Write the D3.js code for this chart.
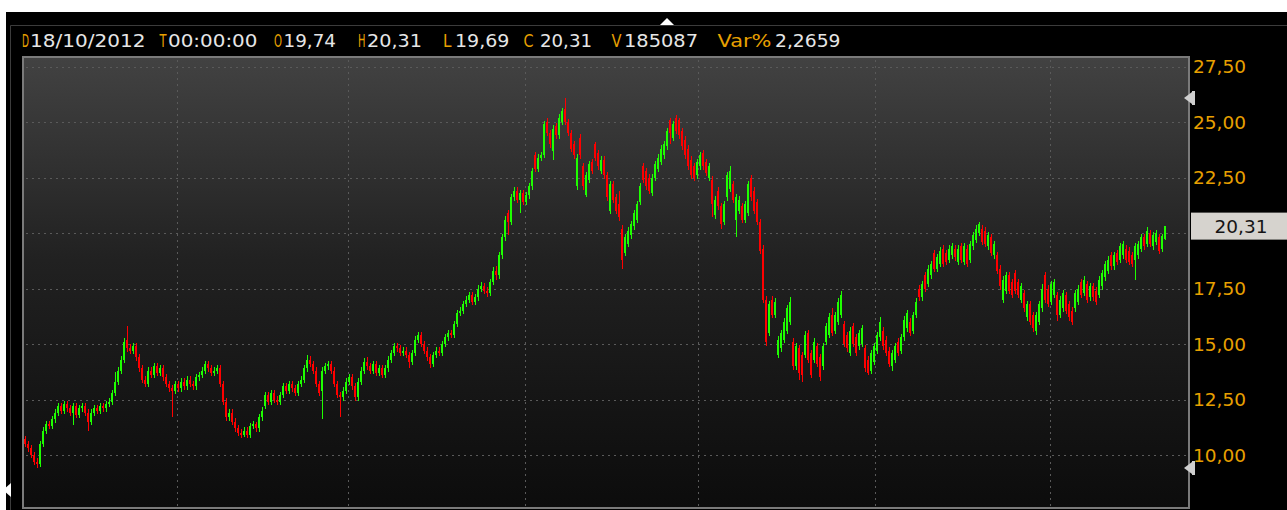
<!DOCTYPE html>
<html><head><meta charset="utf-8">
<script src="https://cdn.jsdelivr.net/npm/d3@7"></script>
<style>html,body{margin:0;padding:0;background:#fff;overflow:hidden}</style>
</head><body><svg id="c" width="1287" height="510"></svg>
<script>
// ---- data (daily OHLC bars) ----
const opens = [
10.7,10.5,10.3,10.0,9.7,9.6,10.5,11.1,11.4,11.3,
11.6,11.9,12.2,12.0,12.3,12.1,11.9,12.2,11.8,12.1,
12.2,11.9,11.5,11.9,12.1,12.0,12.2,12.1,12.3,12.4,
12.8,13.3,13.8,14.3,15.2,14.8,14.7,14.9,14.4,13.9,
13.4,13.2,13.8,13.6,14.0,13.7,13.9,13.5,13.2,13.0,
12.9,13.2,13.0,13.3,13.1,13.4,13.2,13.1,13.5,13.6,
13.8,14.1,13.9,13.7,13.8,13.9,13.2,12.4,11.7,11.9,
11.5,11.2,11.0,10.9,11.1,10.9,11.3,11.4,11.2,11.7,
12.2,12.7,12.4,12.8,12.5,12.4,12.7,13.1,12.9,13.2,
13.0,12.8,13.2,13.4,13.9,14.3,14.1,13.8,13.2,12.9,
13.8,14.0,14.1,13.8,13.2,12.7,12.6,12.9,13.3,13.5,
13.1,12.6,13.3,13.8,14.2,14.0,13.8,14.1,13.7,13.9,
13.6,13.9,14.3,14.6,14.9,14.8,14.6,14.7,14.5,14.2,
14.6,15.2,15.4,15.0,14.7,14.4,14.1,14.5,14.7,14.6,
15.0,15.3,15.5,15.4,15.9,16.4,16.5,16.8,17.0,17.2,
16.9,17.1,17.5,17.6,17.4,17.3,17.8,18.3,18.1,19.0,
19.8,20.9,20.5,21.6,21.9,21.5,21.8,21.4,21.7,22.1,
23.5,22.9,23.4,23.5,25.0,24.5,23.7,24.8,24.4,25.0,
25.6,25.0,24.5,24.0,22.1,24.3,23.0,21.7,22.4,23.2,
24.0,23.6,22.8,23.3,22.6,21.0,22.2,21.6,21.3,20.2,
19.1,19.5,19.9,20.3,20.6,21.4,23.0,22.8,22.5,21.8,
22.5,22.9,23.2,23.5,23.9,25.1,24.3,25.2,25.1,24.6,
24.2,23.8,23.3,23.0,22.6,23.0,23.6,23.2,22.5,22.4,
20.8,21.9,21.2,20.5,21.6,22.0,22.2,20.6,21.0,21.2,
20.6,20.9,22.5,21.9,21.4,20.5,19.3,17.0,15.5,17.0,
16.3,14.5,14.8,15.2,15.6,16.0,15.1,14.0,14.8,14.5,
14.5,15.5,14.6,14.3,14.9,14.4,14.0,15.1,15.4,16.3,
15.6,16.0,16.3,15.9,15.4,14.6,15.8,15.3,14.9,15.0,
14.8,14.3,13.8,14.2,14.7,15.3,15.6,15.2,14.7,14.0,
14.3,15.1,14.7,15.3,15.7,16.0,15.6,16.3,17.5,17.1,
18.1,17.7,18.1,19.1,18.4,18.6,19.3,19.1,18.8,19.0,
19.3,18.7,19.4,18.7,19.3,18.8,19.4,19.7,20.0,20.2,
20.1,19.4,19.8,19.0,19.0,18.4,17.0,17.4,18.1,17.8,
18.2,17.8,17.0,17.3,16.2,16.8,16.3,15.6,16.0,16.6,
18.1,17.5,16.9,17.2,17.2,16.3,16.6,17.2,16.8,16.5,
16.6,16.9,17.8,17.3,17.7,17.1,17.6,17.4,17.2,17.6,
18.0,18.3,19.0,18.5,19.1,18.8,19.0,19.3,19.2,19.0,
18.8,19.0,19.3,19.8,19.5,20.0,19.4,19.6,19.8,19.3,19.74];
const highs = [
10.85,10.65,10.45,10.15,9.85,10.65,11.25,11.55,11.55,11.75,
12.05,12.35,12.35,12.45,12.45,12.25,12.35,12.35,12.25,12.35,
12.35,12.05,12.05,12.25,12.25,12.35,12.35,12.45,12.55,12.95,
13.75,13.95,14.45,15.25,15.8,15.0,15.05,15.05,14.55,14.05,
13.55,13.95,13.95,14.15,14.15,14.05,14.05,13.65,13.35,13.15,
13.35,13.35,13.45,13.45,13.55,13.55,13.35,13.65,13.75,13.95,
14.25,14.25,14.05,13.95,14.05,14.05,13.35,12.55,12.05,12.05,
11.65,11.35,11.15,11.25,11.25,11.45,11.55,11.5,11.85,12.15,
12.85,12.85,12.95,12.95,12.65,12.85,13.25,13.25,13.35,13.35,
13.15,13.35,13.55,14.05,14.5,14.45,14.25,13.95,13.35,13.95,
14.15,14.25,14.25,13.95,13.35,12.85,13.05,13.45,13.65,13.65,
13.25,13.45,13.95,14.35,14.4,14.15,14.25,14.25,14.05,14.05,
14.05,14.45,14.75,15.05,15.05,14.95,14.85,14.85,14.65,14.75,
15.35,15.55,15.55,15.15,14.85,14.55,14.65,14.85,14.85,15.15,
15.45,15.65,15.65,16.05,16.55,16.65,16.95,17.15,17.35,17.35,
17.25,17.65,17.8,17.75,17.55,17.95,18.45,18.5,19.15,19.95,
20.75,21.05,21.75,22.05,22.05,21.95,21.95,21.85,22.25,22.95,
23.65,23.55,23.65,25.05,25.2,24.65,24.85,24.95,25.35,25.65,
26.1,25.15,24.65,24.15,23.55,24.45,23.15,22.75,23.25,23.35,
24.1,23.75,23.45,23.45,22.75,22.35,22.35,21.75,21.9,20.35,
19.95,20.25,20.55,21.05,21.45,22.25,23.15,22.95,22.65,22.65,
23.25,23.55,23.95,24.15,24.75,25.2,25.05,25.3,25.2,24.75,
24.35,23.95,23.45,23.15,23.35,23.65,23.75,23.35,23.15,22.55,
21.65,22.05,21.35,21.45,22.75,23.0,22.35,21.75,21.65,21.35,
21.45,22.35,22.6,22.05,21.55,20.65,19.45,17.15,16.95,17.15,
17.05,15.35,15.65,16.15,16.75,17.1,15.25,15.05,14.95,14.65,
15.6,15.65,14.75,15.25,15.05,14.55,15.05,15.95,16.4,16.6,
16.45,17.05,17.4,16.05,15.55,15.75,15.95,15.45,15.65,15.85,
14.95,14.45,14.75,15.05,15.55,16.2,15.75,15.35,14.85,14.75,
15.05,15.25,15.45,16.25,16.55,16.15,16.45,17.05,17.65,17.85,
18.25,18.55,18.75,19.25,19.05,19.35,19.45,19.25,19.45,19.55,
19.45,19.45,19.55,19.55,19.45,19.65,20.05,20.35,20.5,20.35,
20.25,20.05,19.95,19.65,19.15,18.55,18.05,18.25,18.25,17.95,
18.35,17.95,17.75,17.45,16.95,16.95,16.45,16.45,16.95,17.7,
18.25,17.65,17.85,17.95,17.35,17.15,17.45,17.35,16.95,16.65,
17.45,17.65,17.95,18.05,17.85,17.75,17.75,17.55,18.05,18.35,
18.75,18.95,19.15,19.15,19.25,19.55,19.65,19.45,19.35,19.15,
19.55,19.65,19.95,19.95,20.25,20.15,20.05,20.15,19.95,19.95,20.31];
const lows = [
10.35,10.15,9.85,9.55,9.4,9.45,10.35,10.95,11.15,11.15,
11.45,11.75,11.85,11.85,11.95,11.75,11.35,11.65,11.65,11.95,
11.75,11.1,11.35,11.75,11.85,11.85,11.95,11.95,12.15,12.25,
12.65,13.15,13.65,14.15,14.65,14.55,14.55,14.25,13.75,13.25,
13.05,13.05,13.45,13.45,13.55,13.55,13.35,13.05,12.85,11.7,
12.75,12.85,12.85,12.95,12.95,13.05,12.95,12.95,13.35,13.45,
13.65,13.75,13.55,13.55,13.65,13.05,12.25,11.55,11.55,11.35,
11.05,10.85,10.75,10.8,10.75,10.75,11.15,11.05,11.05,11.55,
12.05,12.25,12.25,12.35,12.25,12.25,12.55,12.75,12.75,12.85,
12.65,12.65,13.05,13.25,13.75,13.95,13.65,13.05,12.65,11.6,
13.65,13.85,13.65,13.05,12.55,11.7,12.45,12.75,13.15,12.95,
12.45,12.45,13.15,13.65,13.85,13.65,13.65,13.55,13.55,13.45,
13.45,13.75,14.15,14.45,14.65,14.45,14.45,14.35,13.9,14.05,
14.45,15.05,14.85,14.55,14.25,13.9,13.95,14.35,14.45,14.45,
14.85,15.15,15.25,15.25,15.75,16.25,16.35,16.65,16.85,16.75,
16.75,16.95,17.35,17.25,17.1,17.15,17.65,17.9,17.95,18.85,
19.65,19.9,20.35,21.45,21.35,20.9,21.25,21.25,21.55,21.95,
22.75,22.75,23.25,23.4,24.35,23.85,23.3,24.25,24.25,24.85,
24.85,24.35,23.65,23.35,21.95,23.35,21.95,21.6,22.25,22.65,
23.25,22.85,22.65,22.45,21.45,20.85,21.35,20.85,20.55,18.4,
18.95,19.35,19.75,20.15,20.45,21.25,22.25,21.95,21.75,21.65,
22.35,22.75,23.05,23.35,23.75,24.0,24.15,24.45,24.25,23.75,
23.35,22.85,22.45,22.35,22.45,22.85,22.85,22.55,22.35,20.7,
20.65,21.05,20.2,20.35,21.45,21.85,21.35,19.8,20.85,20.45,
20.45,20.75,21.45,20.85,20.35,19.05,16.85,14.9,15.35,16.15,
16.15,14.35,14.65,15.05,15.45,15.85,13.85,13.85,13.4,13.3,
14.35,14.15,13.45,14.15,13.95,13.35,13.85,14.95,15.25,15.35,
15.45,15.85,16.15,14.85,14.65,14.45,14.85,14.45,14.75,14.85,
13.75,13.6,13.65,14.05,14.55,15.15,14.75,14.45,13.95,13.8,
14.15,14.45,14.55,15.15,15.55,15.35,15.45,16.15,16.95,16.95,
17.35,17.55,17.95,18.25,18.25,18.45,18.45,18.55,18.65,18.85,
18.75,18.55,18.65,18.55,18.45,18.65,19.25,19.55,19.85,19.45,
19.35,19.25,18.95,18.85,18.15,17.45,16.85,17.25,17.25,17.05,
17.25,17.05,16.85,16.45,16.05,15.85,15.55,15.4,15.85,16.45,
16.85,16.65,16.75,17.05,16.05,16.15,16.45,16.35,16.05,15.85,
16.45,16.75,17.05,17.15,16.85,16.95,16.95,16.75,17.05,17.45,
17.85,18.15,18.35,18.35,18.55,18.65,18.85,18.65,18.55,18.45,
17.9,18.85,19.15,19.25,19.35,19.35,19.25,19.45,19.05,19.15,19.69];
const closes = [
10.5,10.3,10.0,9.7,9.6,10.5,11.1,11.4,11.3,11.6,
11.9,12.2,12.0,12.3,12.1,11.9,12.2,11.8,12.1,12.2,
11.9,11.5,11.9,12.1,12.0,12.2,12.1,12.3,12.4,12.8,
13.3,13.8,14.3,15.1,14.8,14.7,14.9,14.4,13.9,13.4,
13.2,13.8,13.6,14.0,13.7,13.9,13.5,13.2,13.0,12.9,
13.2,13.0,13.3,13.1,13.4,13.2,13.1,13.5,13.6,13.8,
14.1,13.9,13.7,13.8,13.9,13.2,12.4,11.7,11.9,11.5,
11.2,11.0,10.9,11.1,10.9,11.3,11.4,11.2,11.7,12.0,
12.7,12.4,12.8,12.5,12.4,12.7,13.1,12.9,13.2,13.0,
12.8,13.2,13.4,13.9,14.3,14.1,13.8,13.2,12.8,13.8,
14.0,14.1,13.8,13.2,12.7,12.6,12.9,13.3,13.5,13.1,
12.6,13.3,13.8,14.2,14.0,13.8,14.1,13.7,13.9,13.6,
13.9,14.3,14.6,14.9,14.8,14.6,14.7,14.5,14.2,14.6,
15.2,15.4,15.0,14.7,14.4,14.1,14.5,14.7,14.6,15.0,
15.3,15.5,15.4,15.9,16.4,16.5,16.8,17.0,17.2,16.9,
17.1,17.5,17.6,17.4,17.3,17.8,18.3,18.1,19.0,19.8,
20.6,20.5,21.6,21.9,21.5,21.8,21.4,21.7,22.1,22.8,
22.9,23.4,23.5,24.9,24.5,24.0,24.7,24.4,25.2,25.5,
25.0,24.5,23.8,23.5,23.4,23.5,22.1,22.6,23.1,22.8,
23.4,23.0,23.3,22.6,21.6,22.2,21.5,21.0,20.7,18.8,
19.8,20.1,20.4,20.9,21.3,22.1,22.4,22.1,21.9,22.5,
23.1,23.4,23.8,24.0,24.6,24.5,24.9,24.6,24.4,23.9,
23.5,23.0,22.6,22.5,23.2,23.5,23.0,22.7,23.0,21.3,
21.5,21.2,20.4,21.3,22.6,22.8,21.5,21.6,21.5,20.6,
21.3,22.2,21.6,21.0,20.5,19.2,17.0,15.1,16.8,16.3,
16.9,15.2,15.5,16.0,16.6,16.9,14.0,14.9,13.7,13.6,
15.4,14.3,13.6,15.1,14.1,13.5,14.9,15.8,16.2,15.5,
16.3,16.9,17.2,15.0,14.8,15.6,15.0,14.6,15.5,15.7,
13.9,13.7,14.6,14.9,15.4,16.0,14.9,14.6,14.1,14.6,
14.9,14.6,15.3,16.1,16.4,15.5,16.3,16.9,17.1,17.7,
17.5,18.4,18.6,18.4,18.9,19.2,18.6,18.7,19.3,19.4,
18.9,19.3,18.8,19.4,18.6,19.5,19.9,20.2,20.4,19.6,
19.5,19.9,19.1,19.5,18.3,17.6,17.9,18.1,17.4,17.2,
17.4,17.2,17.6,16.6,16.8,16.0,15.7,16.3,16.8,17.5,
17.0,16.8,17.7,17.8,16.3,17.0,17.3,16.5,16.2,16.0,
17.3,17.5,17.2,17.9,17.0,17.6,17.1,16.9,17.9,18.2,
18.6,18.8,18.5,19.0,18.7,19.4,19.5,18.8,18.7,18.6,
19.4,19.5,19.8,19.4,20.1,19.5,19.9,20.0,19.2,19.86,20.31];
const yTicks = [10, 12.5, 15, 17.5, 20, 22.5, 25, 27.5];
const gridBars = [51, 108, 167, 225, 284, 342];   // bar indices where the vertical grid falls
const lastDate = "18/10/2012";
const lastTime = "00:00:00";
const lastVolume = 185087;
const headerLabels = ["D", "T", "O", "H", "L", "C", "V", "Var%"];

// ---- drawing ----
const W = 1287, H = 510;
const svg = d3.select("#c");
const n = closes.length;
const loc = d3.formatLocale({decimal: ",", thousands: ".", grouping: [3], currency: ["", ""]});
const f2 = loc.format(".2f"), f4 = loc.format(".4f");
const GREEN = "#1eff00", RED = "#ff0000", ORANGE = "#e8a000";
const FONT = "DejaVu Sans, Verdana, sans-serif";

const P = {l: 23, t: 57, r: 1189, b: 508};
const x = d3.scaleLinear().domain([0, n - 1]).range([25, 1165]);
const y = d3.scaleLinear().domain([10, 27.5]).range([455, 66.5]);

const defs = svg.append("defs");
const grad = defs.append("linearGradient").attr("id", "bg").attr("x1", 0).attr("y1", 0).attr("x2", 0).attr("y2", 1);
[[0, "#424242"], [0.45, "#212121"], [1, "#0c0c0c"]].forEach(([o, c]) =>
  grad.append("stop").attr("offset", o).attr("stop-color", c));

svg.append("rect").attr("width", W).attr("height", H).attr("fill", "#fff");
svg.append("rect").attr("x", 6).attr("y", 12).attr("width", W - 6).attr("height", H - 12).attr("fill", "#000");
svg.append("path").attr("d", "M10.5,510 V25.5 H1287").attr("stroke", "#3c3c3c").attr("fill", "none");
svg.append("path").attr("d", "M660,25 L667,18 L674,25 Z").attr("fill", "#fff");
svg.append("path").attr("d", "M3,490 L11,483 L11,497 Z").attr("fill", "#fff");

svg.append("rect").attr("x", P.l).attr("y", P.t).attr("width", P.r - P.l).attr("height", P.b - P.t)
  .attr("fill", "url(#bg)").attr("stroke", "#7a7a7a").attr("stroke-width", 2);

// grid
const grid = svg.append("g").attr("stroke", "#5a5a5a").attr("stroke-width", 1).attr("stroke-dasharray", "2,4").attr("shape-rendering", "crispEdges");
grid.selectAll("line.h").data(yTicks).join("line").attr("class", "h")
  .attr("x1", P.l + 3).attr("x2", P.r - 3)
  .attr("y1", d => Math.round(y(d)) + 0.5).attr("y2", d => Math.round(y(d)) + 0.5);
grid.selectAll("line.v").data(gridBars).join("line").attr("class", "v")
  .attr("x1", d => Math.round(x(d) - 1.5) + 0.5).attr("x2", d => Math.round(x(d) - 1.5) + 0.5)
  .attr("y1", P.t + 3).attr("y2", P.b - 2);

// candles
const idx = d3.range(n);
const col = i => closes[i] >= opens[i] ? GREEN : RED;
const cg = svg.append("g").attr("shape-rendering", "crispEdges");
cg.selectAll("rect.w").data(idx).join("rect").attr("class", "w")
  .attr("x", i => Math.round(x(i))).attr("width", 1)
  .attr("y", i => y(highs[i])).attr("height", i => Math.max(1, y(lows[i]) - y(highs[i])))
  .attr("fill", col);
cg.selectAll("rect.b").data(idx).join("rect").attr("class", "b")
  .attr("x", i => Math.round(x(i)) - 1).attr("width", 2)
  .attr("y", i => y(Math.max(opens[i], closes[i])))
  .attr("height", i => Math.max(1, Math.abs(y(opens[i]) - y(closes[i]))))
  .attr("fill", col);

// y axis labels (the one hidden by the last-price box is not drawn)
const last = closes[n - 1];
svg.append("g").selectAll("text").data(yTicks.filter(d => Math.abs(y(d) - y(last)) > 16)).join("text")
  .attr("x", 1193).attr("y", d => y(d) + 6.6)
  .attr("fill", ORANGE).attr("font-family", FONT).attr("font-size", 18.5)
  .text(d => f2(d));

// high / low markers
[d3.max(highs), d3.min(lows)].forEach(v => {
  const Y = Math.round(y(v));
  svg.append("path").attr("d", `M1184,${Y} L1192,${Y - 6} L1192,${Y + 6} Z`).attr("fill", "#cfcfcf");
  svg.append("rect").attr("x", 1192).attr("y", Y - 7).attr("width", 3).attr("height", 14).attr("fill", "#cfcfcf");
});

// last price box
svg.append("rect").attr("x", 1191).attr("y", y(last) - 13.5).attr("width", 96).attr("height", 27).attr("fill", "#d6d3ce");
svg.append("text").attr("x", 1241).attr("y", y(last) + 6.8).attr("text-anchor", "middle")
  .attr("fill", "#151515").attr("font-family", FONT).attr("font-size", 18.5).text(f2(last));

// header: each token squeezed horizontally into its measured slot
const headerValues = [lastDate, lastTime, f2(opens[n - 1]), f2(highs[n - 1]), f2(lows[n - 1]), f2(closes[n - 1]),
  String(lastVolume), f4((closes[n - 1] / closes[n - 2] - 1) * 100)];
const labelX = [22, 159.5, 274, 358, 443, 523.5, 611.5, 717.5];
const labelW = [7, 7, 8, 7.5, 8.5, 10, 10, 54];
const valueX = [30, 168, 283.5, 367, 455, 540, 624, 775];
const valueW = [115.5, 89.5, 52.5, 55, 54.5, 52, 74, 65.5];
const hg = svg.append("g").attr("font-family", FONT).attr("font-size", 18.5);
function token(str, x0, w, fill) {
  const t = hg.append("text").attr("fill", fill).text(str);
  const nat = t.node().getComputedTextLength();
  t.attr("transform", `translate(${x0},47) scale(${(w / nat).toFixed(4)},1)`);
}
headerLabels.forEach((t, k) => {
  token(t, labelX[k], labelW[k], ORANGE);
  token(headerValues[k], valueX[k], valueW[k], "#e6e6e6");
});

if (!(opens.length === n && highs.length === n && lows.length === n)) {
  svg.append("text").attr("x", 300).attr("y", 300).attr("fill", "yellow").attr("font-size", 30)
    .text(`LEN o${opens.length} h${highs.length} l${lows.length} c${n}`);
}
</script>
</body></html>
